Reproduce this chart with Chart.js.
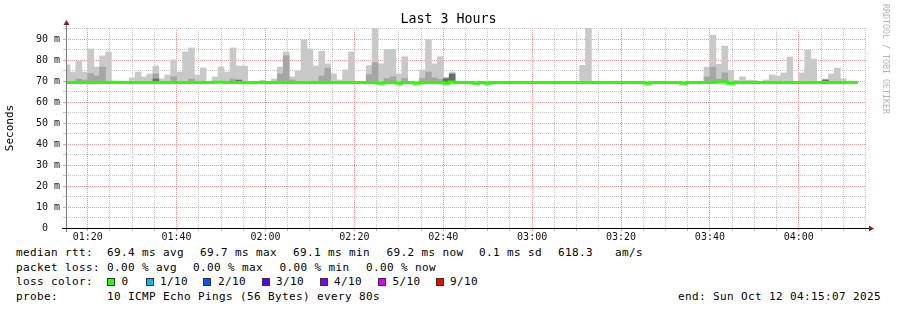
<!DOCTYPE html>
<html><head><meta charset="utf-8">
<script src="https://cdn.jsdelivr.net/npm/chart.js@4.4.0/dist/chart.umd.min.js"></script>
<style>
html,body{margin:0;padding:0;background:#fff;}
#wrap{position:relative;width:897px;height:310px;overflow:hidden;background:#fff;}
#c{position:absolute;left:0;top:0;}
.t{position:absolute;font-family:"DejaVu Sans Mono",monospace;font-size:11px;letter-spacing:0.38px;color:#000;white-space:pre;line-height:14px;}
.box{position:absolute;width:6px;height:6px;border:1px solid #333;top:277.5px;}
#title{position:absolute;left:0;width:897px;top:11px;text-align:center;font-family:"DejaVu Sans Mono",monospace;font-size:13.3px;line-height:16px;color:#000;white-space:pre;}
#wm{position:absolute;left:881px;top:4px;writing-mode:vertical-rl;font-family:"DejaVu Sans Mono",monospace;font-size:8.3px;color:#b4b4b4;white-space:pre;line-height:10px;}
</style></head>
<body>
<div id="wrap">
<canvas id="c" width="897" height="245"></canvas>
<div id="title">Last 3 Hours</div>
<div id="wm">RRDTOOL / TOBI OETIKER</div>

<div class="t" style="left:16px;top:246px">median rtt:</div>
<div class="t" style="left:107px;top:246px">69.4 ms avg</div>
<div class="t" style="left:200px;top:246px">69.7 ms max</div>
<div class="t" style="left:293px;top:246px">69.1 ms min</div>
<div class="t" style="left:386.5px;top:246px">69.2 ms now</div>
<div class="t" style="left:479px;top:246px">0.1 ms sd</div>
<div class="t" style="left:558px;top:246px">618.3</div>
<div class="t" style="left:615px;top:246px">am/s</div>

<div class="t" style="left:16px;top:261px">packet loss:</div>
<div class="t" style="left:107px;top:261px">0.00 % avg</div>
<div class="t" style="left:193px;top:261px">0.00 % max</div>
<div class="t" style="left:279.5px;top:261px">0.00 % min</div>
<div class="t" style="left:366px;top:261px">0.00 % now</div>

<div class="t" style="left:16px;top:274.5px">loss color:</div>
<div class="box" style="left:107px;background:#26ff00"></div><div class="t" style="left:121.5px;top:274.5px">0</div>
<div class="box" style="left:145.5px;background:#00b8ff"></div><div class="t" style="left:160px;top:274.5px">1/10</div>
<div class="box" style="left:203px;background:#0059ff"></div><div class="t" style="left:218px;top:274.5px">2/10</div>
<div class="box" style="left:261.5px;background:#5e00ff"></div><div class="t" style="left:276px;top:274.5px">3/10</div>
<div class="box" style="left:320px;background:#7e00ff"></div><div class="t" style="left:334px;top:274.5px">4/10</div>
<div class="box" style="left:377.5px;background:#dd00ff"></div><div class="t" style="left:392.5px;top:274.5px">5/10</div>
<div class="box" style="left:436px;background:#ff0000"></div><div class="t" style="left:450px;top:274.5px">9/10</div>

<div class="t" style="left:16px;top:289.5px">probe:</div>
<div class="t" style="left:107px;top:289.5px">10 ICMP Echo Pings (56 Bytes) every 80s</div>
<div class="t" style="left:678px;top:289.5px">end: Sun Oct 12 04:15:07 2025</div>
</div>

<script>
// ---------- data ----------
const viewStartLabel = '01:15:07';
const viewEndLabel = '04:15:07';
const firstBinEndLabel = '01:16:00';
const stepSeconds = 80;

const timeLabels = ['01:20','01:40','02:00','02:20','02:40','03:00','03:20','03:40','04:00'];
const yTickLabels = ['0  ','10 m','20 m','30 m','40 m','50 m','60 m','70 m','80 m','90 m'];

// median rtt per 80 s bin (ms)
const medianRtt = [
 69.4,69.4,69.4,69.4,69.4,69.4,69.4,69.4,69.5,69.4,
 69.4,69.4,69.4,69.4,69.4,69.4,69.4,69.4,69.4,69.4,
 69.4,69.4,69.4,69.4,69.4,69.5,69.5,69.4,69.4,69.4,
 69.4,69.3,69.4,69.4,69.4,69.4,69.4,69.4,69.4,69.4,
 69.4,69.4,69.4,69.4,69.4,69.4,69.4,69.4,69.4,69.4,
 69.4,69.4,69.4,69.1,69.4,69.4,69.1,69.4,69.4,69.1,
 69.4,69.4,69.4,69.4,69.1,69.6,69.4,69.4,69.4,69.1,
 69.4,69.1,69.4,69.4,69.4,69.4,69.4,69.4,69.4,69.4,
 69.4,69.4,69.4,69.4,69.4,69.4,69.4,69.4,69.4,69.4,
 69.4,69.4,69.4,69.4,69.4,69.4,69.4,69.4,69.1,69.4,
 69.4,69.4,69.4,69.4,69.1,69.4,69.4,69.4,69.4,69.4,
 69.7,69.7,69.1,69.4,69.4,69.4,69.4,69.4,69.4,69.4,
 69.4,69.4,69.4,69.4,69.4,69.4,69.4,69.4,69.4,69.4,
 69.4,69.4,69.4,69.4
];

// highest ping per bin (outer smoke)
const smokeMax = [
 77.9,74.4,79.7,74.4,85.4,76.8,82.1,84.0,null,null,
 null,71.6,74.4,72.1,73.5,77.3,71.1,73.0,80.2,74.4,
 84.0,85.9,73.0,76.3,null,72.1,76.8,74.4,85.9,77.3,
 77.3,null,null,70.5,null,71.1,76.8,84.0,72.1,74.9,
 89.7,85.4,77.3,84.4,78.3,73.5,70.6,75.4,84.0,null,
 null,77.5,95.4,78.3,85.2,85.2,73.5,81.7,null,null,
 75.4,89.8,78.3,81.7,71.9,74.4,null,null,null,null,
 null,null,null,null,null,null,null,null,null,null,
 null,null,null,null,null,null,null,77.6,95.2,null,
 null,null,null,null,null,null,null,null,null,null,
 null,null,null,null,null,null,null,null,76.7,91.9,
 78.1,86.8,75.2,70.5,72.1,70.5,70.5,null,70.6,73.0,
 72.5,74.0,81.6,null,74.0,84.9,80.6,null,71.1,73.5,
 76.3,71.1,null,null
];

// second-highest ping per bin (inner smoke)
const smokeMid = [
 null,null,71.0,70.6,73.6,72.5,76.8,null,null,null,
 null,null,null,null,null,73.5,null,null,72.1,null,
 null,71.1,null,null,null,null,null,null,71.1,70.6,
 null,null,null,null,null,null,73.5,82.1,70.6,null,
 null,null,null,72.5,76.3,null,null,null,null,null,
 null,73.2,78.9,null,71.3,72.1,null,71.3,null,null,
 71.3,74.4,71.6,70.9,null,null,null,null,null,null,
 null,null,null,null,null,null,null,null,null,null,
 null,null,null,null,null,null,null,null,null,null,
 null,null,null,null,null,null,null,null,null,null,
 null,null,null,null,null,null,null,null,72.1,76.7,
 71.0,74.0,null,null,null,null,null,null,null,null,
 null,null,null,null,null,null,null,null,null,null,
 null,null,null,null
];

// core smoke (pings closest to the median)
const smokeCore = [
 null,null,null,null,null,null,null,null,null,null,
 null,null,null,null,null,71.1,null,null,null,null,
 null,null,null,null,null,null,null,null,null,70.5,
 null,null,null,null,null,null,null,null,null,null,
 null,null,null,null,null,null,null,null,null,null,
 null,null,null,null,null,null,null,null,null,null,
 null,null,null,null,71.3,73.5,null,null,null,null,
 null,null,null,null,null,null,null,null,null,null,
 null,null,null,null,null,null,null,null,null,null,
 null,null,null,null,null,null,null,null,null,null,
 null,null,null,null,null,null,null,null,null,null,
 null,null,null,null,null,null,null,null,null,null,
 null,null,null,null,null,null,null,null,70.6,null,
 null,null,null,null
];

// ---------- helpers ----------
function toSec(s){ const p = s.split(':').map(Number); return p[0]*3600 + p[1]*60 + (p[2]||0); }
const viewStart = toSec(viewStartLabel);
const viewEnd = toSec(viewEndLabel);
const firstBinEnd = toSec(firstBinEndLabel);
const majorTicks = timeLabels.map(toSec);
const MINOR_X = 300, MAJOR_X = 1200;

function binBars(tops){
  const out = [];
  tops.forEach((v,i)=>{
    if (v == null) return;
    const end = firstBinEnd + i*stepSeconds;
    out.push({x: end - stepSeconds/2, y: [medianRtt[i], v]});
  });
  return out;
}
const medianLine = medianRtt.map((v,i)=>({x: firstBinEnd + (i-1)*stepSeconds, y: v}));
medianLine.push({x: firstBinEnd + (medianRtt.length-1)*stepSeconds, y: medianRtt[medianRtt.length-1]});

const MONO = '"DejaVu Sans Mono", monospace';
const MAJOR_COLOR = '#ef9a9a';
const MINOR_COLOR = '#c6c6c6';

const axisPlugin = {
  id: 'rrdAxes',
  afterDatasetsDraw(chart){
    const {ctx, chartArea: a} = chart;
    ctx.save();
    ctx.lineWidth = 1;
    ctx.strokeStyle = '#7a7a7a';
    ctx.beginPath(); ctx.moveTo(a.left+0.5, a.bottom+4); ctx.lineTo(a.left+0.5, a.top-5); ctx.stroke();
    ctx.strokeStyle = '#000';
    ctx.beginPath(); ctx.moveTo(a.left-4, a.bottom+0.5); ctx.lineTo(a.right+3, a.bottom+0.5); ctx.stroke();
    ctx.fillStyle = '#8b1c1c';
    ctx.beginPath(); ctx.moveTo(a.left+0.5, a.top-8); ctx.lineTo(a.left+3.5, a.top-3); ctx.lineTo(a.left-2.5, a.top-3); ctx.closePath(); ctx.fill();
    ctx.beginPath(); ctx.moveTo(a.right+8, a.bottom+0.5); ctx.lineTo(a.right+3, a.bottom+3.5); ctx.lineTo(a.right+3, a.bottom-2.5); ctx.closePath(); ctx.fill();
    ctx.restore();
  }
};

new Chart(document.getElementById('c'), {
  type: 'bar',
  data: {
    datasets: [
      {type:'line', data: medianLine, borderColor:'#26ff00', borderWidth:3, pointRadius:0, stepped:true, fill:false, clip:0, order:0, borderCapStyle:'butt'},
      {data: binBars(smokeCore), backgroundColor:'#6c6c6c', grouped:false, order:1, categoryPercentage:1, barPercentage:1},
      {data: binBars(smokeMid), backgroundColor:'#a6a6a6', grouped:false, order:2, categoryPercentage:1, barPercentage:1},
      {data: binBars(smokeMax), backgroundColor:'#c9c9c9', grouped:false, order:3, categoryPercentage:1, barPercentage:1}
    ]
  },
  options: {
    responsive:false, animation:false, events:[],
    layout:{padding:{left:0, right:31, top:28, bottom:0}},
    plugins:{legend:{display:false}, tooltip:{enabled:false}, title:{display:false}},
    scales:{
      x:{
        type:'linear', min:viewStart, max:viewEnd, offset:false,
        afterBuildTicks(scale){
          const t = [];
          for (let v = Math.ceil(viewStart/MINOR_X)*MINOR_X; v <= viewEnd; v += MINOR_X) t.push({value:v});
          scale.ticks = t;
        },
        afterFit(scale){ scale.height = 17; },
        grid:{offset:false, lineWidth:1, drawTicks:true, tickLength:3,
          color(ctx){ return (ctx.tick && ctx.tick.value % MAJOR_X === 0) ? MAJOR_COLOR : MINOR_COLOR; },
          tickColor(ctx){ return (ctx.tick && ctx.tick.value % MAJOR_X === 0) ? MAJOR_COLOR : MINOR_COLOR; }},
        border:{display:false, dash:[1,1]},
        ticks:{autoSkip:false, maxRotation:0, minRotation:0, padding:0, color:'#111', font:{family:MONO, size:10},
          callback(v){ const k = majorTicks.indexOf(v); return k >= 0 ? timeLabels[k] : ''; }}
      },
      y:{
        type:'linear', min:0, max:95.4,
        afterBuildTicks(scale){
          const t = [];
          for (let v = 0; v <= 95; v += 5) t.push({value:v});
          scale.ticks = t;
        },
        afterFit(scale){ scale.width = 66; },
        grid:{lineWidth:1, drawTicks:true, tickLength:3,
          color(ctx){ return (ctx.tick && ctx.tick.value % 10 === 0) ? MAJOR_COLOR : MINOR_COLOR; },
          tickColor(ctx){ return (ctx.tick && ctx.tick.value % 10 === 0) ? MAJOR_COLOR : MINOR_COLOR; }},
        border:{display:false, dash:[1,1]},
        title:{display:true, text:'Seconds', color:'#000', font:{family:MONO, size:11}, padding:{top:4, bottom:0}},
        ticks:{autoSkip:false, padding:3, color:'#111', font:{family:MONO, size:10},
          callback(v){ return v % 10 === 0 ? yTickLabels[v/10] : ''; }}
      }
    }
  },
  plugins:[axisPlugin]
});
</script>
</body></html>
